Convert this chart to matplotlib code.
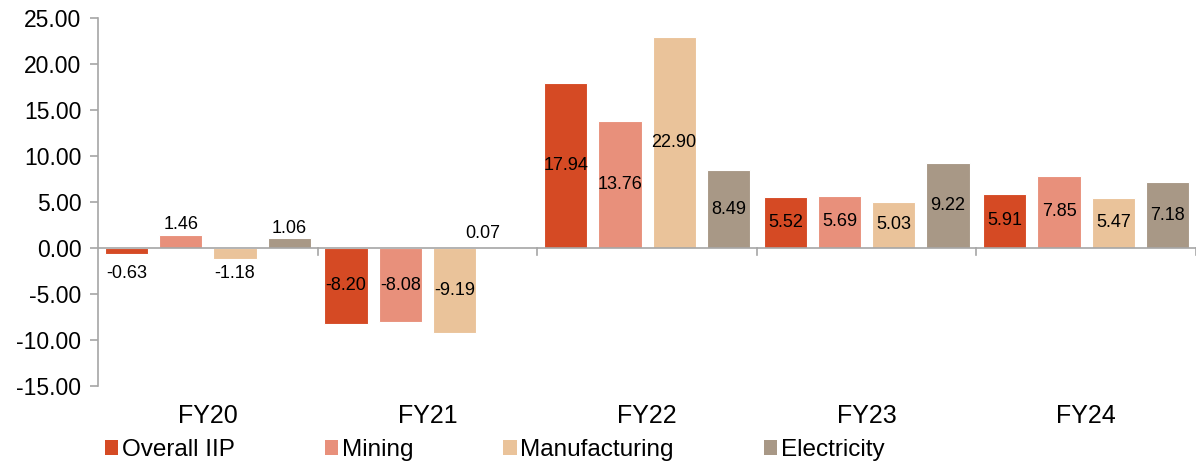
import numpy as np
import matplotlib.pyplot as plt
from matplotlib.patches import Patch
from matplotlib.transforms import blended_transform_factory

plt.rcParams['font.family'] = ['Liberation Sans', 'DejaVu Sans']
plt.rcParams['axes.unicode_minus'] = False

years = ["FY20", "FY21", "FY22", "FY23", "FY24"]
series = ["Overall IIP", "Mining", "Manufacturing", "Electricity"]
overall = [-0.63, -8.20, 17.94, 5.52, 5.91]
mining = [1.46, -8.08, 13.76, 5.69, 7.85]
manufacturing = [-1.18, -9.19, 22.90, 5.03, 5.47]
electricity = [1.06, 0.07, 8.49, 9.22, 7.18]
colors = ["#D54A24", "#E8907B", "#EAC39A", "#A89886"]

values = [overall, mining, manufacturing, electricity]

# hand-nudged labels (points), as in the original
nudge = {(0, 0): (0, -8), (3, 1): (-19, 4)}

fig = plt.figure(figsize=(11.96, 4.63), dpi=100)
ax = fig.add_axes([0.082, 0.166, 0.918, 0.795])

x = np.arange(len(years))
slot = 0.247
width = 0.197
for i, (name, vals, c) in enumerate(zip(series, values, colors)):
    pos = x + (i - 1.5) * slot
    bars = ax.bar(pos, vals, width, color=c, edgecolor="white", linewidth=0.8, label=name)
    for j, (b, v) in enumerate(zip(bars, vals)):
        cx = b.get_x() + b.get_width() / 2
        if abs(v) < 2:
            dx, dy = nudge.get((i, j), (0, 1 if v >= 0 else -4))
            ax.annotate(f"{v:.2f}", (cx, v), xytext=(dx, dy), textcoords="offset points",
                        ha="center", va="bottom" if v >= 0 else "top", fontsize=13)
        else:
            ax.text(cx, v / 2, f"{v:.2f}", ha="center", va="center", fontsize=13)

ax.set_xlim(-0.5, 4.5)
ax.set_ylim(-15, 25)
ax.set_yticks(np.arange(-15, 26, 5))
ax.set_yticklabels([f"{t:.2f}" for t in np.arange(-15, 26, 5)], fontsize=16.5)

for s in ["top", "right", "bottom"]:
    ax.spines[s].set_visible(False)
ax.spines["left"].set_color("#A6A6A6")
ax.spines["left"].set_linewidth(1.2)
ax.tick_params(axis="y", color="#A6A6A6", length=6, width=1.2, pad=6)
ax.axhline(0, color="#A6A6A6", linewidth=1.2, zorder=3)

ax.set_xticks([])
for b in np.arange(0.5, 4.6, 1.0):
    ax.plot([b, b], [0, -0.7], color="#A6A6A6", linewidth=1.2, clip_on=False)

trans = blended_transform_factory(ax.transData, ax.transAxes)
for xi, yr in zip(x, years):
    ax.text(xi, -0.08, yr, transform=trans, ha="center", va="center", fontsize=18)

handles = [Patch(facecolor=c, label=s) for s, c in zip(series, colors)]
fig.legend(handles=handles, loc="center left", bbox_to_anchor=(105 / 1196, 1 - 450 / 463),
           ncol=4, frameon=False, fontsize=17.5, borderpad=0, borderaxespad=0,
           handlelength=0.55, handleheight=0.55, handletextpad=0.15, columnspacing=3.7)

fig.savefig("out.png", dpi=100)
